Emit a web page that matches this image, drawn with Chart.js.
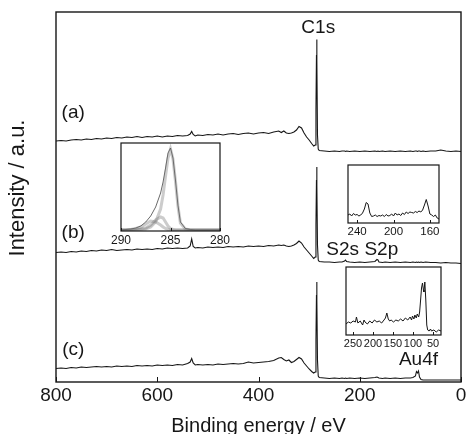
<!DOCTYPE html>
<html>
<head>
<meta charset="utf-8">
<script src="https://cdn.jsdelivr.net/npm/chart.js@4/dist/chart.umd.min.js"></script>
<style>
  body { margin: 0; background: #fff; }
  #wrap { position: relative; width: 470px; height: 434px; }
  #wrap canvas { position: absolute; }
</style>
</head>
<body>
<div id="wrap">
  <canvas id="main" width="470" height="434" style="left:0;top:0"></canvas>
  <canvas id="insetC" width="127" height="108" style="left:107px;top:141px"></canvas>
  <canvas id="insetS" width="119" height="78" style="left:334px;top:163px"></canvas>
  <canvas id="insetAu" width="123" height="88" style="left:332px;top:265px"></canvas>
</div>
<script>
// survey spectra, binding energy (eV)
const energy = [800, 790, 780, 770, 760, 750, 740, 730, 720, 710, 700, 690, 680, 670, 660, 650, 640, 630, 620, 610,
  600, 590, 580, 570, 560, 550, 540, 535, 532, 529, 525, 520, 510, 500, 490, 480, 470, 460, 450, 440,
  430, 420, 410, 400, 390, 380, 370, 360, 355, 350, 345, 340, 335, 330, 325, 320, 315, 310, 305, 300,
  295, 291, 288, 286.5, 285.5, 285, 284.5, 283.5, 282, 280, 270, 260, 250, 240, 235, 230, 228, 226, 220, 210,
  200, 190, 180, 170, 166, 164, 162, 155, 150, 140, 130, 120, 110, 100, 95, 90, 88, 86, 84, 82,
  79, 75, 70, 60, 50, 40, 30, 20, 10, 0];

// intensities, already stacked (a) top, (b) middle, (c) bottom
const specA = [241, 241.5, 241, 242, 242.5, 242, 243, 242.5, 243.5, 243, 244, 243.5, 244.5, 244, 245, 244.5, 245.5, 244.5, 245.5, 245,
  246, 245, 246, 245.5, 246.5, 246, 246.5, 248, 250.5, 247.5, 246, 247, 246.5, 247.5, 247, 248, 247, 248, 248.5, 247.5,
  248.5, 249, 248, 249, 249.5, 248.5, 250, 251, 249.5, 251, 249, 248.5, 249, 250, 252, 255.5, 254, 249, 245, 242,
  238.5, 236, 237, 272, 327, 342.5, 322, 247, 233, 231.5, 231, 230.5, 231, 230.5, 231, 231, 230.5, 231, 230.5, 231,
  230.5, 231, 230.5, 231, 230.5, 231, 230.5, 231, 230.5, 231, 230.5, 231, 230.5, 231, 230.5, 231, 231, 230.5, 231, 231,
  230.5, 231, 230.5, 231, 231, 232, 231, 230.5, 231, 230.5];

const specB = [129.5, 130, 129.5, 130.5, 130, 131, 130.5, 131.5, 131, 132, 131.5, 132.5, 131.5, 132, 132.5, 132, 133, 132.5, 133, 132.5,
  133.5, 133, 134, 133.5, 134, 133.5, 134, 136, 143, 135.5, 134, 134.5, 134, 135, 134.5, 135, 134.5, 135.5, 135, 135.5,
  135, 136, 135.5, 136, 135.5, 136.5, 136, 137, 136.5, 137, 136, 135.5, 136, 137, 138.5, 141, 139, 135, 132, 129,
  126, 123.5, 125, 157, 202, 215, 197, 137, 122, 120.5, 120, 120, 119.5, 120, 120, 121, 122, 120.5, 120, 119.5,
  120, 119.5, 120, 120.5, 122.5, 122, 120, 119.5, 120, 119.5, 120, 119.5, 120, 119.5, 120, 119.5, 120, 119.5, 120, 119.5,
  120, 119.5, 120, 119.5, 119.5, 119, 119.5, 119, 119, 118.5];

const specC = [13.5, 14, 13.5, 14.5, 14, 15, 14.5, 15, 15.5, 15, 15.5, 15, 16, 15.5, 16, 15.5, 16.5, 16, 16.5, 16,
  17, 16.5, 17, 16.5, 17.5, 17, 18.5, 20, 23.5, 19, 17, 17.5, 17, 17.5, 17, 18, 17.5, 18, 18.5, 18,
  18.5, 20, 19, 19.5, 20, 20.5, 21.5, 24, 24.5, 22.5, 21, 22, 19.5, 20.5, 22.5, 24.5, 23, 19, 16, 13,
  10.5, 9, 10, 42, 87, 100, 82, 22, 6, 4.5, 4, 3.5, 4, 3.5, 4, 3.5, 4, 3.5, 4, 3.5,
  4, 3.5, 4, 4.5, 5, 4.5, 4, 3.5, 4, 3.5, 4, 3.5, 4, 4, 4.5, 6, 10.5, 9, 11, 5,
  2.5, 2, 2, 2, 2, 2, 2, 2, 2, 2];

const mainTicks = [0, 200, 400, 600, 800];

// inset: C1s high resolution (b)
const c1sEnergy = [290, 289.5, 289, 288.5, 288, 287.5, 287, 286.5, 286, 285.75, 285.5, 285.25, 285, 284.75, 284.5, 284.25, 284, 283.5, 283, 282.5, 282, 281, 280];
const c1sEnvelope = [1, 1.5, 2, 3, 5, 9, 15, 24, 38, 49, 63, 78, 83, 73, 51, 26, 9, 2.5, 1.5, 1, 1, 1, 1];
const c1sMain = [1, 1, 1, 1, 1.5, 2, 4, 9, 22, 36, 55, 73, 82, 72, 50, 25, 8, 2, 1, 1, 1, 1, 1];
const c1sComp2 = [1, 1, 1, 1.5, 2, 3, 6, 11, 14, 13, 9, 5, 2.5, 1.5, 1, 1, 1, 1, 1, 1, 1, 1, 1];
const c1sComp3 = [1, 1, 1.5, 2.5, 4, 7, 10, 9, 6, 4, 2.5, 1.5, 1, 1, 1, 1, 1, 1, 1, 1, 1, 1, 1];
const c1sTicks = [280, 285, 290];

// inset: S2s / S2p region (b)
const sEnergy = [250, 248, 246, 244, 242, 240, 238, 236, 234, 232, 230, 228, 226, 224, 222, 220, 218, 216, 214, 212,
  210, 208, 206, 204, 202, 200, 198, 196, 194, 192, 190, 188, 186, 184, 182, 180, 178, 176, 174, 172,
  170, 168, 166, 164, 162, 160, 158, 156, 154, 152, 150];
const sCounts = [8, 9, 7, 9.5, 8, 8.5, 7, 8, 10, 14, 20.5, 19, 10, 6.5, 7, 8, 6.5, 7.5, 7, 8,
  6.5, 8.5, 7, 7.5, 9, 7, 10, 8, 9, 7.5, 10, 8.5, 11, 9.5, 11, 10.5, 10, 11.5, 10.5, 12,
  11, 13, 18, 23.5, 17, 9, 8, 6.5, 8, 5, 4];
const sTicks = [160, 200, 240];

// inset: Au4f region (c), energies read against the inset's own labels
const auEnergy = [267.5, 261.6, 255.6, 249.7, 243.8, 241.4, 237.8, 231.9, 225.9, 222.4, 220, 214.1, 208.1, 202.2, 196.3, 190.3, 184.4, 178.4, 172.5, 168.9,
  165.4, 161.8, 158.3, 154.7, 148.8, 142.8, 136.9, 130.9, 125, 119.1, 113.1, 107.2, 103.6, 101.3, 97.7, 95.3, 91.8, 89.4, 85.8, 83.4,
  81, 78.7, 76.3, 73.9, 72.7, 70.4, 68, 65.6, 63.3, 59.8, 56.2, 53.8, 47.8, 41.9, 36, 30];
const auCounts = [11, 13, 12, 14, 13, 18, 12, 14, 10, 15, 13, 11, 14, 12, 15, 13, 14, 12, 15, 17,
  22, 16, 14, 15, 13, 15, 14, 16, 14, 17, 15, 18, 15, 19, 16, 20, 17, 21, 18, 23,
  35, 47, 52, 45, 43, 53, 35, 10, 5, 4, 6, 4, 5, 3, 5, 4];
const auTicks = [50, 100, 150, 200, 250];

// text placed in data coordinates of the main chart
const notes = [
  { text: 'C1s', x: 282, y: 354 },
  { text: '(a)', x: 766, y: 269 },
  { text: '(b)', x: 766, y: 149 },
  { text: '(c)', x: 766, y: 32 },
  { text: 'S2s S2p', x: 195, y: 132 },
  { text: 'Au4f', x: 84, y: 22 }
];

const FONT = "'Liberation Sans', Arial, Helvetica, sans-serif";
const INK = '#161616';
Chart.defaults.font.family = FONT;
Chart.defaults.color = INK;

function pts(xs, ys) {
  return xs.map((x, i) => ({ x: x, y: ys[i] }));
}

function line(data, color, width) {
  return { data: data, borderColor: color, borderWidth: width, pointRadius: 0, tension: 0, fill: false };
}

// box round the plot area, white inside for the insets, short ticks pointing inward
const framePlugin = {
  id: 'frame',
  beforeDraw(chart, args, opts) {
    if (!opts.fill) return;
    const a = chart.chartArea;
    chart.ctx.save();
    chart.ctx.fillStyle = '#fff';
    chart.ctx.fillRect(a.left, a.top, a.right - a.left, a.bottom - a.top);
    chart.ctx.restore();
  },
  afterDraw(chart, args, opts) {
    const ctx = chart.ctx, a = chart.chartArea, x = chart.scales.x;
    ctx.save();
    ctx.strokeStyle = INK;
    ctx.lineWidth = opts.lineWidth || 1;
    ctx.strokeRect(a.left, a.top, a.right - a.left, a.bottom - a.top);
    ctx.lineWidth = 1;
    ctx.beginPath();
    x.ticks.forEach(t => {
      const px = Math.round(x.getPixelForValue(t.value)) + 0.5;
      ctx.moveTo(px, a.bottom);
      ctx.lineTo(px, a.bottom - opts.tick);
    });
    ctx.stroke();
    ctx.restore();
  }
};

const notesPlugin = {
  id: 'notes',
  afterDraw(chart) {
    const ctx = chart.ctx, x = chart.scales.x, y = chart.scales.y;
    ctx.save();
    ctx.fillStyle = INK;
    ctx.font = '19px ' + FONT;
    ctx.textAlign = 'center';
    ctx.textBaseline = 'middle';
    notes.forEach(n => ctx.fillText(n.text, x.getPixelForValue(n.x), y.getPixelForValue(n.y)));
    // y title, a bit above the middle like the original
    ctx.translate(18, 188);
    ctx.rotate(-Math.PI / 2);
    ctx.font = '22px ' + FONT;
    ctx.fillText('Intensity / a.u.', 0, 0);
    ctx.restore();
  }
};

new Chart(document.getElementById('main'), {
  type: 'line',
  data: {
    datasets: [
      line(pts(energy, specA), INK, 1.1),
      line(pts(energy, specB), INK, 1.1),
      line(pts(energy, specC), INK, 1.1)
    ]
  },
  options: {
    responsive: false,
    animation: false,
    devicePixelRatio: 1,
    layout: { padding: { top: 12, right: 9, left: 0, bottom: 0 } },
    plugins: { legend: { display: false }, tooltip: { enabled: false }, frame: { lineWidth: 1.4, tick: 5 } },
    scales: {
      x: {
        type: 'linear', min: 0, max: 800, reverse: true,
        afterBuildTicks: s => { s.ticks = mainTicks.map(v => ({ value: v })); },
        afterFit: s => { s.height = 52; },
        grid: { display: false, drawTicks: false },
        border: { display: false },
        ticks: { padding: 2, font: { size: 19 }, maxRotation: 0, autoSkip: false },
        title: { display: true, text: 'Binding energy / eV', font: { size: 20, lineHeight: 1 }, padding: { top: 0, bottom: -2 } }
      },
      y: {
        min: 0, max: 370,
        afterFit: s => { s.width = 56; },
        ticks: { display: false },
        grid: { display: false, drawTicks: false },
        border: { display: false }
      }
    }
  },
  plugins: [framePlugin, notesPlugin]
});

function inset(id, datasets, lo, hi, ticks, yMax, fontSize) {
  new Chart(document.getElementById(id), {
    type: 'line',
    data: { datasets: datasets },
    options: {
      responsive: false,
      animation: false,
      devicePixelRatio: 1,
      layout: { padding: { top: 2, right: 14, left: 14, bottom: 0 } },
      plugins: { legend: { display: false }, tooltip: { enabled: false }, frame: { fill: true, lineWidth: 1.2, tick: 3 } },
      scales: {
        x: {
          type: 'linear', min: hi, max: lo, reverse: true,
          afterBuildTicks: s => { s.ticks = ticks.map(v => ({ value: v })); },
          afterFit: s => { s.height = 18; },
          grid: { display: false, drawTicks: false },
          border: { display: false },
          ticks: { padding: 2, font: { size: fontSize }, maxRotation: 0, autoSkip: false }
        },
        y: { display: false, min: 0, max: yMax }
      }
    },
    plugins: [framePlugin]
  });
}

const GREY = 'rgba(110,110,110,0.35)';
inset('insetC', [
  line(pts(c1sEnergy, c1sMain), GREY, 3),
  line(pts(c1sEnergy, c1sComp2), GREY, 3),
  line(pts(c1sEnergy, c1sComp3), GREY, 3),
  line(pts(c1sEnergy, c1sEnvelope), '#444', 0.8)
], 290, 280, c1sTicks, 88, 12);

inset('insetS', [line(pts(sEnergy, sCounts), INK, 1)], 250, 150, sTicks, 58, 11.5);
inset('insetAu', [line(pts(auEnergy, auCounts), INK, 1)], 267.5, 30, auTicks, 68, 11);
</script>
</body>
</html>
